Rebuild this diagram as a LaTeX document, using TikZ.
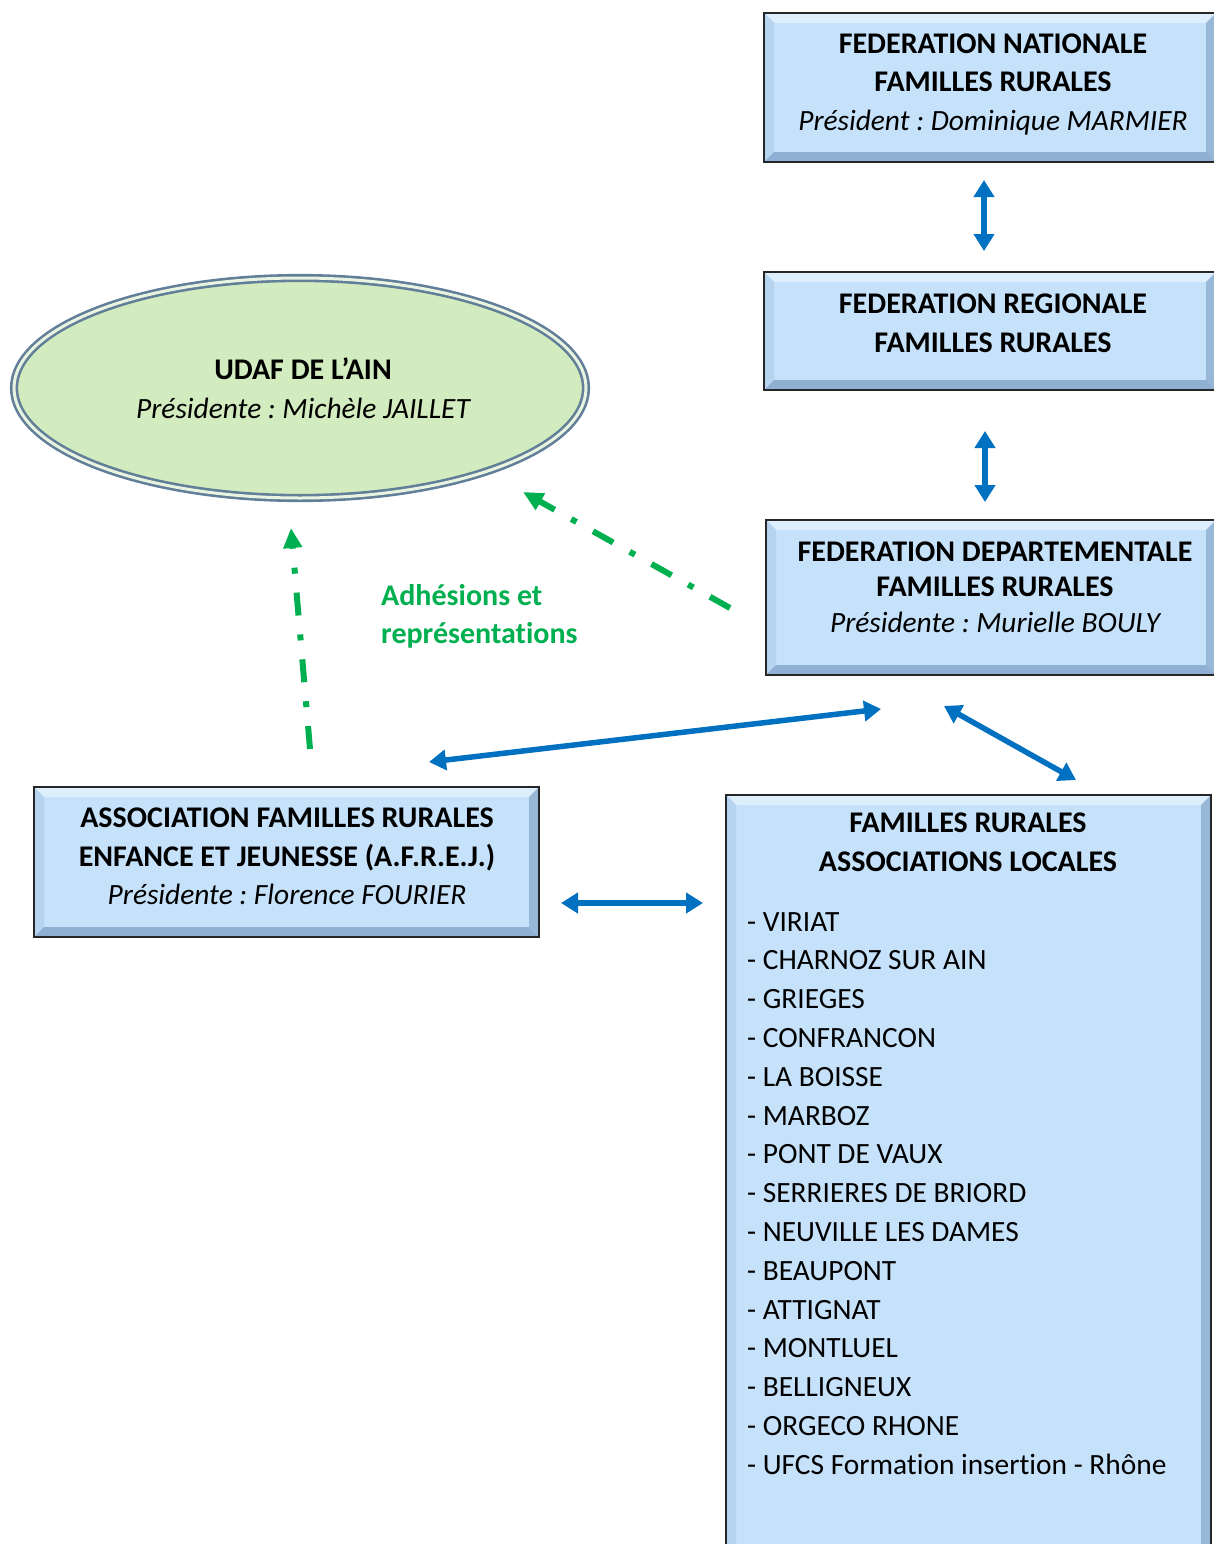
\documentclass[tikz,border=0pt]{standalone}
\usepackage{fontspec}
\setmainfont{Carlito}[Ligatures=NoCommon]
\frenchspacing
\usetikzlibrary{arrows.meta,shapes.geometric,calc}
\definecolor{arrowblue}{HTML}{0070C0}
\definecolor{arrowgreen}{HTML}{00B050}
\definecolor{boxfill}{HTML}{C6E1FA}
\definecolor{bevtop}{HTML}{DDEEFD}
\definecolor{bevleft}{HTML}{B6D3F0}
\definecolor{bevright}{HTML}{98B8D8}
\definecolor{bevbot}{HTML}{8FB0D2}
\definecolor{ellfill}{HTML}{D2EBBF}
\definecolor{ellrim}{HTML}{627F99}
\definecolor{ellinner}{HTML}{E9F4E0}
\newcommand{\regsize}{\fontsize{29.4}{38.5}\selectfont}
\begin{document}
\begin{tikzpicture}[x=1pt,y=-1pt,
  bevelbox/.style={draw=black!85, line width=2.5pt, fill=boxfill, inner sep=0pt, outer sep=0pt,
    path picture={
      \coordinate (pnw) at (path picture bounding box.north west);
      \coordinate (pne) at (path picture bounding box.north east);
      \coordinate (psw) at (path picture bounding box.south west);
      \coordinate (pse) at (path picture bounding box.south east);
      \fill[bevtop] (pnw) -- (pne) -- ($(pne)+(-10pt,-10pt)$) -- ($(pnw)+(10pt,-10pt)$) -- cycle;
      \fill[bevleft] (pnw) -- (psw) -- ($(psw)+(10pt,10pt)$) -- ($(pnw)+(10pt,-10pt)$) -- cycle;
      \fill[bevright] (pne) -- (pse) -- ($(pse)+(-10pt,10pt)$) -- ($(pne)+(-10pt,-10pt)$) -- cycle;
      \fill[bevbot] (psw) -- (pse) -- ($(pse)+(-10pt,10pt)$) -- ($(psw)+(10pt,10pt)$) -- cycle;
    }},
  txt/.style={align=center, font=\fontsize{30}{38.5}\selectfont, inner sep=0pt},
  bluearrow/.style={draw=arrowblue, line width=5.5pt,
    {Triangle[length=17pt,width=20pt]}-{Triangle[length=17pt,width=20pt]}},
  greenarrow/.style={draw=arrowgreen, line width=6pt,
    dash pattern=on 23pt off 19pt on 6pt off 19pt,
    -{Triangle[length=20pt,width=18pt]}}
]
\useasboundingbox (0,0) rectangle (1214,1544);
\fill[white] (0,0) rectangle (1214,1544);

% boxes
\node[bevelbox, minimum width=452, minimum height=149] (fn) at (990,87.5) {};
\node[bevelbox, minimum width=452, minimum height=118] (fr) at (990,331) {};
\node[bevelbox, minimum width=450, minimum height=155] (fd) at (991,597.5) {};
\node[bevelbox, minimum width=505, minimum height=150] (afrej) at (286.5,862) {};
\node[bevelbox, minimum width=485, minimum height=765] (al) at (968.5,1177.5) {};

% ellipse
\node[ellipse, fill=ellfill, draw=ellrim, line width=2.6pt, double=ellinner, double distance=3pt,
      minimum width=572, minimum height=220, inner sep=0pt] (udaf) at (300,388) {};

% texts
\node[txt] (fntext) at (993,84.5) {\bfseries FEDERATION NATIONALE\\\bfseries FAMILLES RURALES\\\regsize\itshape Président : Dominique MARMIER};
\node[txt] (frtext) at (993,323.5) {\bfseries FEDERATION REGIONALE\\\bfseries FAMILLES RURALES};
\node[txt, font=\fontsize{30}{35.5}\selectfont] (fdtext) at (995,587) {\bfseries FEDERATION DEPARTEMENTALE\\\bfseries FAMILLES RURALES\\\fontsize{29.4}{35.5}\selectfont\itshape Présidente : Murielle BOULY};
\node[txt] (afrejtext) at (287,856.5) {\bfseries ASSOCIATION FAMILLES RURALES\\\bfseries ENFANCE ET JEUNESSE (A.F.R.E.J.)\\\regsize\itshape Présidente : Florence FOURIER};
\node[txt] (altext) at (968,842.5) {\bfseries FAMILLES RURALES\\\bfseries ASSOCIATIONS LOCALES};
\node[txt, align=left, anchor=north west, font=\fontsize{29.4}{38.8}\selectfont] (allist) at (747,912)
  {- VIRIAT\\- CHARNOZ SUR AIN\\- GRIEGES\\- CONFRANCON\\- LA BOISSE\\- MARBOZ\\- PONT DE VAUX\\- SERRIERES DE BRIORD\\- NEUVILLE LES DAMES\\- BEAUPONT\\- ATTIGNAT\\- MONTLUEL\\- BELLIGNEUX\\- ORGECO RHONE\\- UFCS Formation insertion - Rhône};
\node[txt] (udaftext) at (303,388) {\bfseries UDAF DE L’AIN\\\regsize\itshape Présidente : Michèle JAILLET};
\node[txt, align=left, anchor=north west, text=arrowgreen] (label) at (381,584) {\bfseries Adhésions et\\\bfseries représentations};

% connector end points
\coordinate (a1s) at (984,180);
\coordinate (a1e) at (984,251);
\coordinate (a2s) at (985,431);
\coordinate (a2e) at (985,502);
\coordinate (a3s) at (881,709);
\coordinate (a3e) at (429,762);
\coordinate (a4s) at (944,706);
\coordinate (a4e) at (1076,780);
\coordinate (a5s) at (561,903);
\coordinate (a5e) at (703,903);
\coordinate (g1s) at (730,608);
\coordinate (g1e) at (523,492);
\coordinate (g2s) at (310,749);
\coordinate (g2e) at (291,528);

\draw[bluearrow] (a1s) -- (a1e);
\draw[bluearrow] (a2s) -- (a2e);
\draw[bluearrow] (a3s) -- (a3e);
\draw[bluearrow] (a4s) -- (a4e);
\draw[bluearrow] (a5s) -- (a5e);
\draw[greenarrow] (g1s) -- (g1e);
\draw[greenarrow] (g2s) -- (g2e);
\end{tikzpicture}
\end{document}
